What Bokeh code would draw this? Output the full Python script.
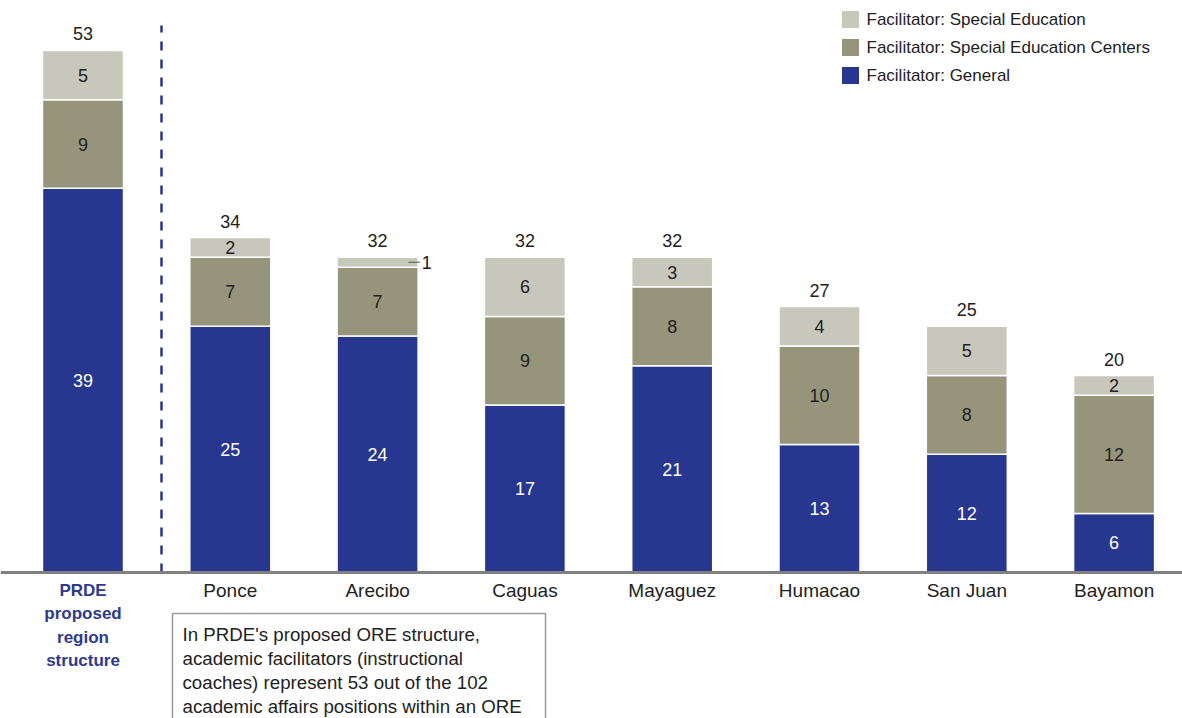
from bokeh.plotting import figure
from bokeh.models import Range1d, Span, ColumnDataSource
from bokeh.core.properties import value
from bokeh.embed import file_html
from bokeh.resources import INLINE

# ---------------- data ----------------
regions = ["PRDE proposed region structure", "Ponce", "Arecibo", "Caguas",
           "Mayaguez", "Humacao", "San Juan", "Bayamon"]
general = [39, 25, 24, 17, 21, 13, 12, 6]
centers = [9, 7, 7, 9, 8, 10, 8, 12]
special = [5, 2, 1, 6, 3, 4, 5, 2]
series_names = ["Facilitator: General",
                "Facilitator: Special Education Centers",
                "Facilitator: Special Education"]
note_lines = ["In PRDE's proposed ORE structure,",
              "academic facilitators (instructional",
              "coaches) represent 53 out of the 102",
              "academic affairs positions within an ORE"]

# ---------------- style ----------------
BLUE = "#27368f"
OLIVE = "#96957c"
LIGHT = "#c8c7bb"
TXT = "#222222"
FONT = value("Liberation Sans")
colors = [BLUE, OLIVE, LIGHT]

W, H = 1182, 718
M = 0
X0_PX = 82.5
X_STEP = 147.3
BASE_PX = 572
Y_STEP = 9.85


def dx(page_x):
    return (page_x - M - X0_PX) / X_STEP


def dy(page_y):
    return (BASE_PX - (page_y - M)) / Y_STEP


p = figure(width=W, height=H, x_range=Range1d(dx(M), dx(M + W)),
           y_range=Range1d(dy(M + H), dy(M)), output_backend="svg",
           toolbar_location=None, min_border=0)
p.xaxis.visible = False
p.yaxis.visible = False
p.grid.visible = False
p.outline_line_color = None
p.background_fill_color = "white"

xs = list(range(len(regions)))
src = ColumnDataSource(dict(x=xs, general=general, centers=centers, special=special))
p.vbar_stack(["general", "centers", "special"], x="x", width=0.55, source=src,
             fill_color=colors, line_color="white", line_width=1.5)

# baseline
p.add_layout(Span(location=0, dimension="width", line_color="#808080", line_width=3))

# dashed separator
p.segment(x0=[dx(161)], y0=[0], x1=[dx(161)], y1=[dy(25)],
          line_color=BLUE, line_width=2.5, line_dash="9 9")

# segment labels
lx, ly, lt, lc = [], [], [], []
ox, oy, ot = [], [], []
for i in xs:
    bottom = 0
    for vals, col in zip([general, centers, special], ["white", TXT, TXT]):
        v = vals[i]
        if v >= 2:
            lx.append(i)
            ly.append(bottom + v / 2)
            lt.append(str(v))
            lc.append(col)
        else:
            ox.append(i)
            oy.append(bottom + v / 2)
            ot.append(str(v))
        bottom += v
p.text(x=lx, y=ly, text=lt, text_color=lc, text_font=FONT, text_font_size="18px",
       text_align="center", text_baseline="middle")
# small segment labelled outside with leader
p.segment(x0=[x + 0.21 for x in ox], y0=oy, x1=[x + 0.29 for x in ox], y1=oy,
          line_color="#555555", line_width=1)
p.text(x=[x + 0.3 for x in ox], y=oy, text=ot, text_color=TXT, text_font=FONT,
       text_font_size="18px", text_align="left", text_baseline="middle")

# totals
totals = [g + c + s for g, c, s in zip(general, centers, special)]
p.text(x=xs, y=totals, text=[str(t) for t in totals], text_color=TXT, text_font=FONT,
       text_font_size="18px", text_align="center", text_baseline="bottom", y_offset=-10)

# category labels
p.text(x=xs[1:], y=[dy(590)] * (len(xs) - 1), text=regions[1:], text_color=TXT,
       text_font=FONT, text_font_size="19px", text_align="center", text_baseline="middle")
first_words = ["PRDE", "proposed", "region", "structure"]
p.text(x=[0] * len(first_words), y=[dy(590 + 23.4 * k) for k in range(len(first_words))],
       text=first_words, text_color="#2e3a8c", text_font=FONT, text_font_size="17px",
       text_font_style="bold", text_align="center", text_baseline="middle")

# note box
p.quad(left=[dx(172)], right=[dx(545)], top=[dy(613)], bottom=[dy(740)],
       fill_color="white", line_color="#9a9a9a", line_width=1.5)
p.text(x=[dx(182)] * len(note_lines), y=[dy(634 + 24 * k) for k in range(len(note_lines))],
       text=note_lines, text_color=TXT, text_font=FONT, text_font_size="18.7px",
       text_align="left", text_baseline="middle")

# legend (top to bottom: reverse of stack order)
leg_names = series_names[::-1]
leg_cols = colors[::-1]
leg_y = [dy(19 + 28 * k) for k in range(len(leg_names))]
p.rect(x=[dx(850)] * 3, y=leg_y, width=17, height=17, width_units="screen",
       height_units="screen", fill_color=leg_cols, line_color=None)
p.text(x=[dx(866)] * 3, y=leg_y, text=leg_names, text_color=TXT, text_font=FONT,
       text_font_size="17px", text_align="left", text_baseline="middle")

open("out.html", "w").write(file_html(p, INLINE))
